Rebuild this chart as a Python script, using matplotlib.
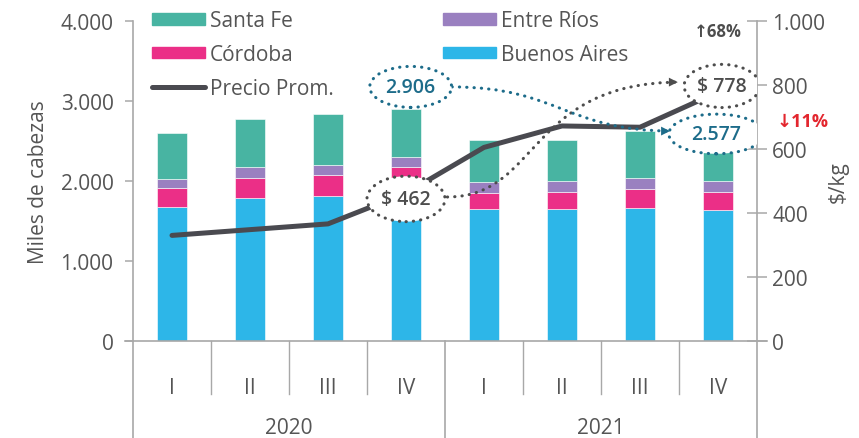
import matplotlib
matplotlib.use("Agg")
import matplotlib.pyplot as plt
from matplotlib.patches import Ellipse, Patch, PathPatch
from matplotlib.lines import Line2D
from matplotlib.path import Path
from matplotlib.ticker import FuncFormatter

plt.rcParams["font.family"] = ["Open Sans", "DejaVu Sans"]

# data (miles de cabezas, $/kg)
quarters = ["I", "II", "III", "IV", "I", "II", "III", "IV"]
years = ["2020", "2021"]
buenos_aires = [1670, 1783, 1808, 1890, 1650, 1650, 1662, 1642]
cordoba = [237, 254, 267, 281, 200, 208, 238, 224]
entre_rios = [117, 134, 129, 125, 133, 138, 137, 138]
santa_fe = [572, 604, 633, 610, 529, 516, 592, 573]
precio = [330, 348, 366, 462, 605, 672, 668, 778]

C_BA = "#2db6e8"
C_CBA = "#eb2f87"
C_ER = "#9a80c0"
C_SF = "#48b4a2"
C_LINE = "#4a4a50"
C_AX = "#a8a8a8"
C_TXT = "#555555"
C_TEAL = "#1d6c8a"
C_GRAY = "#4d4d4d"


def miles(v, _pos=None):
    return f"{v:,.0f}".replace(",", ".")


fig = plt.figure(figsize=(8.59, 4.39), dpi=100)
ax = fig.add_axes([133 / 859, 1 - 342 / 439, 624 / 859, 320 / 439])
ax2 = ax.twinx()

x = list(range(len(quarters)))
width = 0.39
bottom = [0] * len(x)
for vals, col in [(buenos_aires, C_BA), (cordoba, C_CBA), (entre_rios, C_ER), (santa_fe, C_SF)]:
    ax.bar(x, vals, width, bottom=bottom, color=col, edgecolor="white", linewidth=0.4, zorder=2)
    bottom = [b + v for b, v in zip(bottom, vals)]
totals = bottom

ax2.plot(x, precio, color=C_LINE, lw=3.6, solid_capstyle="round", solid_joinstyle="round", zorder=2)

ax.set_xlim(-0.5, 7.5)
ax.set_ylim(0, 4000)
ax2.set_ylim(0, 1000)
ax.set_yticks([0, 1000, 2000, 3000, 4000])
ax2.set_yticks([0, 200, 400, 600, 800, 1000])
ax.yaxis.set_major_formatter(FuncFormatter(miles))
ax2.yaxis.set_major_formatter(FuncFormatter(miles))

for a in (ax, ax2):
    for s in ("top", "bottom"):
        a.spines[s].set_visible(False)
    a.spines["left"].set_color(C_AX)
    a.spines["right"].set_color(C_AX)
    a.spines["left"].set_linewidth(1.2)
    a.spines["right"].set_linewidth(1.2)
ax2.spines["left"].set_visible(False)
ax.spines["right"].set_visible(False)

ax.tick_params(axis="y", direction="out", length=6, width=1.1, color=C_AX,
               labelsize=15, labelcolor=C_TXT, pad=8)
ax2.tick_params(axis="y", direction="inout", length=14, width=1.1, color=C_AX,
                labelsize=15, labelcolor=C_TXT, pad=4)
ax.set_xticks(x)
ax.set_xticklabels(quarters)
ax.tick_params(axis="x", length=0, labelsize=15, labelcolor=C_TXT, pad=26)

ax.set_ylabel("Miles de cabezas", fontsize=15, color=C_TXT, labelpad=8)
ax2.set_ylabel("$/kg", fontsize=15, color=C_TXT, rotation=90, labelpad=2)

# baseline and category separators below the axis
xt = ax.get_xaxis_transform()
ax.plot([-0.6, 7.63], [0, 0], transform=xt, color=C_AX, lw=1.2, clip_on=False, zorder=3)
for i in range(1, len(x)):
    if i == 4:
        continue
    ax.plot([i - 0.5, i - 0.5], [0, -0.165], transform=xt, color=C_AX, lw=1.0, clip_on=False)
for xb in (-0.5, 3.5, 7.5):
    ax.plot([xb, xb], [0, -0.31], transform=xt, color=C_AX, lw=1.2, clip_on=False)
for k, yr in enumerate(years):
    ax.text(1.5 + 4 * k, -0.27, yr, transform=xt, ha="center", va="center",
            fontsize=15, color=C_TXT)


# callouts
def callout(cx, cy, w, h, text, col):
    e = Ellipse((cx, cy), w, h, facecolor="white", edgecolor=col, lw=2.2,
                linestyle=(0, (0.1, 2.3)), zorder=4)
    e.set_capstyle("round")
    ax2.add_patch(e)
    ax2.text(cx, cy, text, ha="center", va="center", fontsize=14, color=col,
             fontweight="semibold", zorder=5)


def dotted_arrow(p0, c1, c2, p1, col):
    path = Path([p0, c1, c2, p1], [Path.MOVETO, Path.CURVE4, Path.CURVE4, Path.CURVE4])
    pp = PathPatch(path, facecolor="none", edgecolor=col, lw=2.2,
                   linestyle=(0, (0.1, 2.3)), zorder=3)
    pp.set_capstyle("round")
    ax2.add_patch(pp)
    ax2.annotate("", xy=p1, xytext=(p1[0] - 0.1, p1[1]),
                 arrowprops=dict(arrowstyle="-|>", color=col, lw=0, mutation_scale=16),
                 zorder=3)


dotted_arrow((3.53, 450), (4.72, 450), (4.55, 809), (6.52, 809), C_GRAY)
dotted_arrow((3.59, 794), (4.95, 794), (5.05, 656), (6.42, 656), C_TEAL)

callout(3.06, 794, 1.05, 128, miles(totals[3]), C_TEAL)
callout(3.0, 444, 1.0, 142, "$ " + miles(precio[3]), C_GRAY)
callout(7.05, 797, 0.97, 135, "$ " + miles(precio[7]), C_GRAY)
callout(6.98, 647, 1.22, 124, miles(totals[7]), C_TEAL)

up = round((precio[7] / precio[3] - 1) * 100)
down = round((totals[7] / totals[3] - 1) * 100)
ax2.text(7.0, 968, f"\u2191{up}%", ha="center", va="center", fontsize=12,
         fontweight="bold", color=C_GRAY, zorder=5)
ax2.text(8.08, 688, f"\u2193{abs(down)}%", ha="center", va="center", fontsize=13,
         fontweight="bold", color="#e3262e", clip_on=False, zorder=5)

# legends
h1 = [Patch(color=C_SF), Patch(color=C_CBA),
      Line2D([], [], color=C_LINE, lw=3.6, solid_capstyle="round")]
h2 = [Patch(color=C_ER), Patch(color=C_BA)]
kw = dict(frameon=False, fontsize=15, handlelength=2.55, handleheight=0.5,
          handletextpad=0.22, labelspacing=0.62, borderpad=0, borderaxespad=0,
          loc="upper left", bbox_transform=fig.transFigure, labelcolor=C_TXT)
leg1 = ax2.legend(h1, ["Santa Fe", "Córdoba", "Precio Prom."],
                  bbox_to_anchor=(152 / 859, 1 - 11 / 439), **kw)
ax2.add_artist(leg1)
ax2.legend(h2, ["Entre Ríos", "Buenos Aires"],
           bbox_to_anchor=(443 / 859, 1 - 11 / 439), **kw)

fig.savefig("out.png", dpi=100)
